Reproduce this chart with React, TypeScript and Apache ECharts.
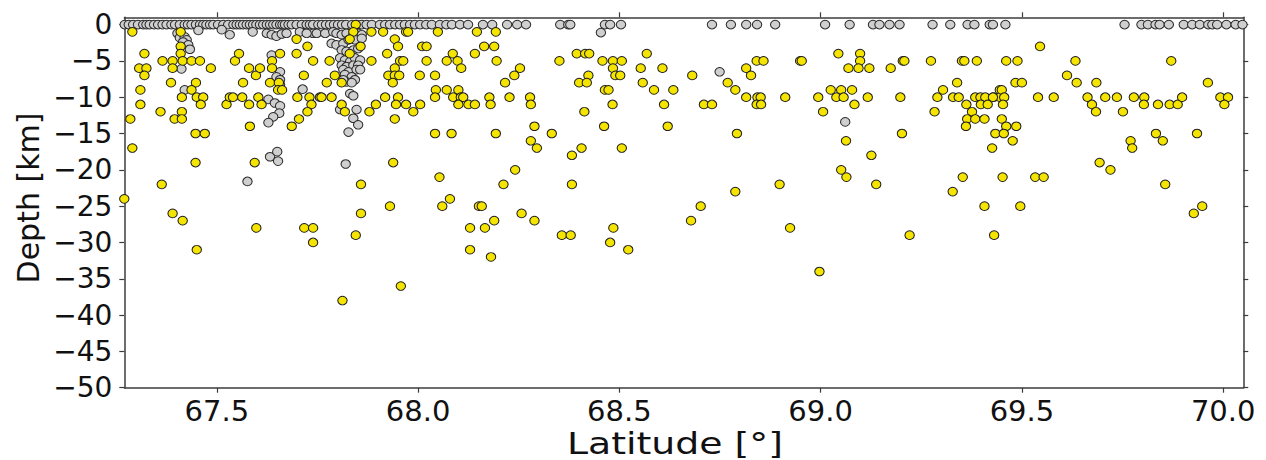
import React, { useEffect, useRef } from "react";
import * as echarts from "echarts";

// Surface / shallow events (gray) : [latitude, depth km]
const graySurface: number[][] = [
  [67.271, 0], [67.281, 0], [67.292, 0], [67.304, 0], [67.317, 0], [67.325, 0], [67.333, 0], [67.344, 0],
  [67.354, 0], [67.365, 0], [67.375, 0], [67.387, 0], [67.396, 0], [67.408, 0], [67.42, 0], [67.428, 0],
  [67.437, 0], [67.448, 0], [67.458, 0], [67.466, 0], [67.474, 0], [67.483, 0], [67.491, 0], [67.503, 0],
  [67.516, 0], [67.528, 0], [67.541, 0], [67.549, 0], [67.557, 0], [67.565, 0], [67.574, 0], [67.582, 0],
  [67.59, 0], [67.598, 0], [67.607, 0], [67.615, 0], [67.624, 0], [67.632, 0], [67.64, 0], [67.648, 0],
  [67.657, 0], [67.663, 0], [67.669, 0], [67.678, 0], [67.686, 0], [67.698, 0], [67.711, 0], [67.723, 0],
  [67.731, 0], [67.739, 0], [67.752, 0], [67.761, 0], [67.771, 0], [67.781, 0], [67.791, 0], [67.801, 0],
  [67.811, 0], [67.821, 0], [67.836, 0], [67.848, 0], [67.86, 0], [67.872, 0], [67.885, 0], [67.905, 0],
  [67.918, 0], [67.93, 0], [67.943, 0], [67.955, 0], [67.967, 0], [67.98, 0], [67.992, 0], [68.005, 0],
  [68.02, 0], [68.034, 0], [68.054, 0], [68.07, 0], [68.084, 0], [68.104, 0], [68.124, 0], [68.161, 0],
  [68.184, 0], [68.221, 0], [68.246, 0], [68.268, 0], [68.353, 0], [68.373, 0], [68.378, 0], [68.464, 0],
  [68.477, 0], [68.504, 0], [68.73, 0], [68.777, 0], [68.815, 0], [68.842, 0], [68.887, 0], [69.011, 0],
  [69.072, 0], [69.13, 0], [69.146, 0], [69.171, 0], [69.196, 0], [69.278, 0], [69.322, 0], [69.365, 0],
  [69.382, 0], [69.42, 0], [69.428, 0], [69.459, 0], [69.755, 0], [69.797, 0], [69.813, 0], [69.832, 0],
  [69.842, 0], [69.865, 0], [69.902, 0], [69.923, 0], [69.942, 0], [69.963, 0], [69.973, 0], [69.985, 0],
  [70.008, 0], [70.031, 0], [70.048, 0],
];

// Gray events below the surface
const grayDeeper: number[][] = [
  [67.454, -0.8], [67.512, -0.7], [67.532, -1.4], [67.589, -1.0], [67.624, -1.2], [67.636, -1.4],
  [67.648, -1.6], [67.661, -1.3], [67.673, -1.2], [67.739, -1.2], [68.454, -1.1],
  [67.402, -1.2], [67.408, -1.8], [67.42, -1.7], [67.425, -2.1], [67.416, -2.4], [67.429, -2.8],
  [67.433, -3.4], [67.412, -6.1], [67.42, -9.0],
  [67.636, -4.2], [67.657, -6.5], [67.648, -7.2], [67.657, -7.6], [67.657, -8.3], [67.628, -10.3],
  [67.644, -10.8], [67.657, -11.2], [67.655, -12.2], [67.64, -12.7], [67.628, -13.5], [67.713, -8.9],
  [67.632, -18.2], [67.652, -18.8], [67.65, -17.5], [67.576, -21.6],
  [67.706, -1.0], [67.723, -1.2], [67.748, -1.2], [67.769, -1.2], [67.789, -1.0],
  [67.797, -1.2], [67.81, -1.4], [67.822, -1.2], [67.839, -1.4], [67.851, -1.2], [67.86, -1.4],
  [67.785, -2.6], [67.797, -2.8], [67.814, -2.6], [67.827, -2.1], [67.843, -2.1], [67.86, -1.9],
  [67.81, -3.5], [67.822, -3.7], [67.839, -3.5], [67.851, -3.3],
  [67.806, -4.6], [67.818, -4.9], [67.831, -5.1], [67.843, -4.6], [67.856, -4.9],
  [67.81, -5.6], [67.822, -5.8], [67.839, -5.6], [67.851, -5.6],
  [67.814, -6.2], [67.827, -6.5], [67.847, -6.2], [67.856, -6.2],
  [67.818, -6.9], [67.835, -7.2], [67.843, -7.6], [67.822, -7.9], [67.835, -8.0], [67.814, -7.6],
  [67.831, -9.5], [67.839, -9.8], [67.806, -11.7], [67.847, -11.7], [67.839, -12.9], [67.851, -13.8],
  [67.827, -14.8], [67.82, -19.2],
  [68.749, -6.5], [69.061, -13.4],
];

// Yellow events, west part
const yellowWest: number[][] = [
  [67.29, -1], [67.41, -1], [67.41, -3], [67.41, -4], [67.32, -4], [67.365, -5], [67.39, -5], [67.415, -5],
  [67.437, -5], [67.458, -5], [67.307, -6], [67.325, -6], [67.39, -6], [67.485, -6], [67.32, -7],
  [67.386, -8], [67.448, -8], [67.31, -9], [67.437, -9], [67.413, -10], [67.45, -10], [67.466, -10],
  [67.31, -11], [67.46, -11], [67.36, -12], [67.413, -12], [67.285, -13], [67.395, -13], [67.413, -13],
  [67.447, -15], [67.47, -15], [67.29, -17], [67.447, -19], [67.363, -22], [67.27, -24], [67.39, -26],
  [67.415, -27], [67.45, -31], [67.598, -28], [67.545, -5], [67.555, -4], [67.565, -8], [67.58, -6],
  [67.597, -7], [67.607, -6], [67.524, -11], [67.532, -10], [67.54, -10], [67.563, -10], [67.58, -11],
  [67.603, -10], [67.611, -11], [67.582, -14], [67.594, -19], [67.632, -8], [67.637, -5], [67.637, -6],
  [67.657, -4], [67.654, -8], [67.652, -9], [67.662, -9], [67.698, -4], [67.698, -2], [67.725, -3],
  [67.716, -7], [67.739, -5], [67.7, -10], [67.73, -10], [67.735, -11], [67.725, -12], [67.704, -13],
  [67.686, -14], [67.756, -10], [67.717, -28], [67.739, -28], [67.739, -30],
];

// Yellow events, central part
const yellowCentral: number[][] = [
  [67.845, 0], [67.839, -1], [67.83, -2], [67.857, -3], [67.83, -4], [67.884, -1], [67.913, -1],
  [67.97, -1], [67.975, -1], [68.049, -1], [68.146, -1], [68.193, -1], [67.942, -2], [67.95, -3],
  [68.01, -3], [68.021, -3], [68.086, -4], [68.141, -4], [68.164, -3], [68.189, -3], [67.923, -4],
  [67.78, -5], [67.884, -5], [67.955, -5], [67.963, -5], [68.021, -5], [68.071, -5], [68.098, -5],
  [68.107, -6], [68.195, -5], [67.942, -6], [67.793, -7], [67.926, -7], [67.942, -7], [67.953, -7],
  [68.004, -7], [68.042, -7], [67.773, -8], [67.81, -8], [67.937, -8], [68.044, -9], [68.071, -9],
  [68.1, -9], [67.76, -10], [67.785, -10], [67.918, -10], [67.95, -10], [68.042, -10], [68.087, -10],
  [68.106, -10], [68.112, -10], [68.177, -10], [67.81, -11], [67.895, -11], [67.945, -11], [67.97, -11],
  [68.005, -11], [68.1, -11], [68.125, -11], [68.141, -11], [68.18, -11], [67.818, -12], [67.879, -12],
  [67.988, -12], [67.942, -13], [68.042, -15], [68.083, -15], [68.193, -15], [67.938, -19], [67.858, -22],
  [68.053, -21], [68.079, -24], [68.06, -25], [67.858, -26], [67.93, -25], [67.845, -29], [67.957, -36],
  [67.812, -38], [68.129, -28], [68.151, -25], [68.158, -25], [68.166, -28], [68.189, -27], [68.129, -31],
  [68.181, -32],
  [68.253, -6], [68.239, -7], [68.216, -8], [68.227, -10], [68.278, -10], [68.28, -11], [68.351, -5],
  [68.394, -4], [68.415, -4], [68.425, -4], [68.458, -5], [68.484, -5], [68.506, -5], [68.484, -6],
  [68.49, -7], [68.502, -7], [68.423, -7], [68.4, -8], [68.419, -8], [68.464, -9], [68.473, -9],
  [68.483, -11], [68.413, -12], [68.568, -4], [68.553, -6], [68.607, -6], [68.558, -8], [68.586, -9],
  [68.634, -9], [68.681, -7], [68.769, -8], [68.788, -9], [68.611, -11], [68.71, -11], [68.73, -11],
  [68.289, -14], [68.332, -15], [68.462, -14], [68.62, -14], [68.792, -15], [68.28, -16], [68.295, -17],
  [68.406, -17], [68.382, -18], [68.506, -17], [68.241, -20], [68.212, -22], [68.382, -22], [68.788, -23],
  [68.257, -26], [68.289, -27], [68.357, -29], [68.379, -29], [68.485, -28], [68.477, -30], [68.522, -31],
  [68.678, -27], [68.702, -25], [68.898, -22], [68.924, -28], [68.997, -34], [69.138, -22],
];

// Yellow events, east part
const yellowEast: number[][] = [
  [68.815, -6], [68.827, -7], [68.841, -5], [68.858, -5], [68.815, -10], [68.843, -10], [68.851, -10],
  [68.841, -11], [68.852, -11], [68.912, -10], [68.949, -5], [68.953, -5], [68.994, -10], [69.006, -12],
  [69.044, -4], [69.098, -4], [69.098, -5], [69.069, -6], [69.094, -6], [69.121, -6], [69.174, -6],
  [69.204, -5], [69.208, -5], [69.274, -5], [69.351, -5], [69.357, -5], [69.388, -5], [69.025, -9],
  [69.051, -9], [69.078, -9], [69.039, -10], [69.057, -10], [69.084, -11], [69.117, -10], [69.198, -10],
  [69.29, -10], [69.304, -9], [69.339, -8], [69.329, -10], [69.343, -10], [69.283, -12], [69.362, -11],
  [69.376, -12], [69.364, -13], [69.384, -13], [69.407, -13], [69.361, -14], [69.384, -10], [69.397, -10],
  [69.409, -10], [69.43, -10], [69.398, -11], [69.415, -11], [69.445, -9], [69.445, -10], [69.434, -15],
  [69.426, -17], [69.063, -16], [69.202, -15], [69.126, -18], [69.051, -20], [69.064, -21], [69.328, -23],
  [69.353, -21], [69.221, -29], [69.407, -25], [69.431, -29], [69.496, -25], [69.533, -21], [69.554, -21],
  [69.856, -22], [69.927, -26], [69.948, -25],
  [69.545, -3], [69.461, -5], [69.489, -5], [69.484, -8], [69.5, -8], [69.45, -9], [69.428, -10],
  [69.456, -10], [69.453, -11], [69.45, -13], [69.461, -14], [69.486, -14], [69.455, -15], [69.477, -16],
  [69.452, -21], [69.54, -10], [69.579, -10], [69.612, -7], [69.633, -5], [69.636, -8], [69.685, -8],
  [69.663, -10], [69.674, -11], [69.684, -12], [69.707, -10], [69.736, -10], [69.751, -12], [69.778, -10],
  [69.804, -10], [69.803, -11], [69.838, -11], [69.867, -11], [69.887, -11], [69.898, -10], [69.871, -5],
  [69.962, -8], [69.993, -10], [70.012, -10], [70.003, -11], [69.77, -16], [69.774, -17], [69.833, -15],
  [69.85, -16], [69.935, -15], [69.693, -19], [69.72, -20],
];

const xTicks = [67.5, 68.0, 68.5, 69.0, 69.5, 70.0];
const yTicks = [-50, -45, -40, -35, -30, -25, -20, -15, -10, -5, 0];

const FONT = "DejaVu Sans";
const AXIS_COLOR = "#3c3c3c";

export default function App() {
  const ref = useRef<HTMLDivElement>(null);
  useEffect(() => {
    if (!ref.current) return;
    const chart = echarts.init(ref.current, undefined, { renderer: "svg" });
    const fmtY = (v: number) => (v < 0 ? "\u2212" + Math.abs(v) : String(v));
    const axisLine = { show: true, onZero: false, lineStyle: { color: AXIS_COLOR, width: 1.5 } };
    const tickStyle = { show: true, inside: false, length: 5, lineStyle: { color: AXIS_COLOR, width: 1.2 } };
    const sym = [9.4, 8.6];
    chart.setOption({
      animation: false,
      grid: { left: 124.3, right: 22.7, top: 17.3, bottom: 72.3, containLabel: false },
      xAxis: [
        {
          type: "value", min: 67.27, max: 70.05, position: "bottom",
          axisLine, splitLine: { show: false },
          axisTick: { ...tickStyle, customValues: xTicks },
          axisLabel: {
            customValues: xTicks, formatter: (v: number) => v.toFixed(1),
            fontFamily: FONT, fontSize: 29, lineHeight: 30, color: "#111", margin: 8,
          },
        },
        {
          type: "value", min: 67.27, max: 70.05, position: "top",
          axisLine, splitLine: { show: false },
          axisTick: { ...tickStyle, customValues: xTicks },
          axisLabel: { show: false, customValues: xTicks },
        },
      ],
      yAxis: [
        {
          type: "value", min: -50, max: 1, position: "left",
          axisLine, splitLine: { show: false },
          axisTick: { ...tickStyle, customValues: yTicks },
          axisLabel: {
            customValues: yTicks, formatter: fmtY,
            fontFamily: FONT, fontSize: 28, color: "#111", margin: 12,
          },
        },
        {
          type: "value", min: -50, max: 1, position: "right",
          axisLine, splitLine: { show: false },
          axisTick: { ...tickStyle, customValues: yTicks },
          axisLabel: { show: false, customValues: yTicks },
        },
      ],
      graphic: [
        {
          type: "text", x: 28, y: 198, rotation: Math.PI / 2,
          style: { text: "Depth [km]", fontFamily: FONT, fontSize: 30, fill: "#111", textAlign: "center", textVerticalAlign: "middle" },
        },
        {
          type: "text", x: 675, y: 443, scaleX: 1.22,
          style: { text: "Latitude [°]", fontFamily: FONT, fontSize: 31, lineHeight: 30, fill: "#111", textAlign: "center", textVerticalAlign: "middle" },
        },
      ],
      series: [
        {
          type: "scatter", name: "gray", xAxisIndex: 0, yAxisIndex: 0,
          data: [...graySurface, ...grayDeeper], symbol: "circle", symbolSize: sym,
          itemStyle: { color: "#cfcfcf", borderColor: "#2a2a2a", borderWidth: 1, opacity: 1 },
          emphasis: { disabled: true },
        },
        {
          type: "scatter", name: "yellow", xAxisIndex: 0, yAxisIndex: 0,
          data: [...yellowWest, ...yellowCentral, ...yellowEast], symbol: "circle", symbolSize: sym,
          itemStyle: { color: "#f4e400", borderColor: "#1e1e1e", borderWidth: 1, opacity: 1 },
          emphasis: { disabled: true },
        },
      ],
    });
    return () => chart.dispose();
  }, []);
  return <div ref={ref} style={{ position: "fixed", left: 0, top: 0, width: 1266, height: 460, background: "#fff" }} />;
}
